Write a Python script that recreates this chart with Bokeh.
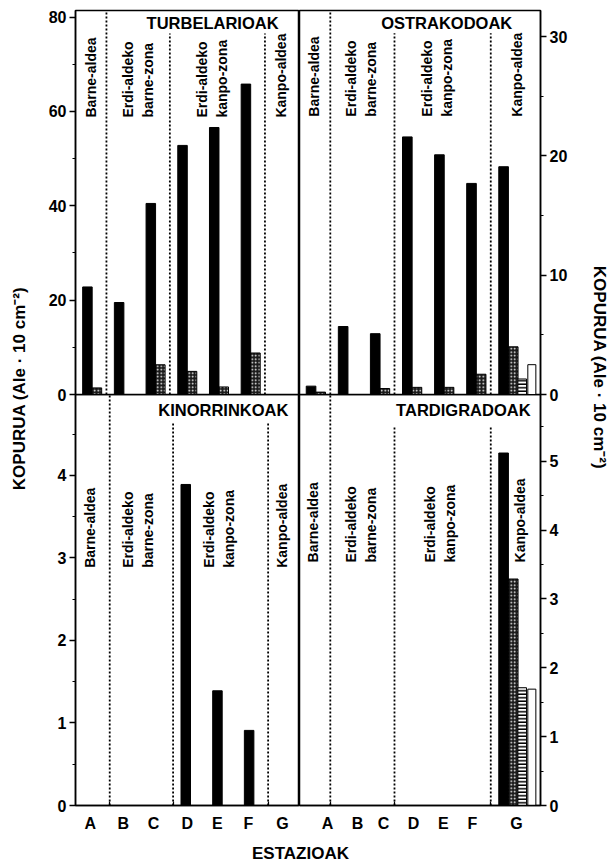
from math import pi
from bokeh.plotting import figure
from bokeh.models import Range1d, FixedTicker, ColumnDataSource, GridBox
from bokeh.transform import dodge
from bokeh.core.properties import value
from bokeh.embed import file_html
from bokeh.resources import INLINE

# ---------------- data ----------------
stations = ["A", "B", "C", "D", "E", "F", "G"]
series_names = ["I", "II", "III", "IV"]  # black, dotted, striped, white bars

turb_black = [22.8, 19.5, 40.5, 52.8, 56.6, 65.8, 0]
turb_dot = [1.4, 0, 6.3, 4.9, 1.6, 8.8, 0]
turb_stripe = [0, 0, 0, 0, 0, 0, 0]
turb_white = [0, 0, 0, 0, 0, 0, 0]

ostr_black = [0.7, 5.7, 5.1, 21.6, 20.1, 17.7, 19.1]
ostr_dot = [0.2, 0, 0.5, 0.6, 0.6, 1.7, 4.0]
ostr_stripe = [0, 0, 0, 0, 0, 0, 1.3]
ostr_white = [0, 0, 0, 0, 0, 0, 2.5]

kino_black = [0, 0, 0, 3.89, 1.39, 0.91, 0]
kino_dot = [0, 0, 0, 0, 0, 0, 0]
kino_stripe = [0, 0, 0, 0, 0, 0, 0]
kino_white = [0, 0, 0, 0, 0, 0, 0]

tard_black = [0, 0, 0, 0, 0, 0, 5.12]
tard_dot = [0, 0, 0, 0, 0, 0, 3.29]
tard_stripe = [0, 0, 0, 0, 0, 0, 1.71]
tard_white = [0, 0, 0, 0, 0, 0, 1.69]

zone_names = ["Barne-aldea", "Erdi-aldeko\nbarne-zona", "Erdi-aldeko\nkanpo-zona", "Kanpo-aldea"]
zone_bounds = [0.5, 2.5, 5.5]

y_title = "KOPURUA (Ale \u00b7 10 cm\u207b\u00b2)"
x_title = "ESTAZIOAK"

# ---------------- styles / layout ----------------
FONT = "Liberation Sans"
BAR_OFF = [-0.1, 0.2, 0.48, 0.78]
BAR_W = [0.3, 0.3, 0.27, 0.25]
BAR_STYLE = [
    dict(fill_color="black", line_color="black"),
    dict(fill_color="#1a1a1a", line_color="black", hatch_pattern="dot", hatch_color="white", hatch_scale=3.5, hatch_weight=1),
    dict(fill_color="white", line_color="black", hatch_pattern="horizontal_line", hatch_color="black", hatch_scale=3.5, hatch_weight=1.5),
    dict(fill_color="white", line_color="black"),
]

LW, RW = 259, 273       # column widths (left / right panel figures)
TH, BH = 402, 441       # figure heights (top / bottom panels)
LLW, RLW = 40, 39       # axis-title strips
ROW_H = ["394px", "8px", "433px", "28px"]


def make_panel(name, vals, cfg):
    p = figure(width=cfg["w"], height=cfg["h"],
               x_range=Range1d(*cfg["xr"]), y_range=Range1d(0, cfg["ymax"]),
               output_backend="svg", toolbar_location=None, tools="",
               x_axis_location="below" if cfg["xlab"] is not None else None,
               y_axis_location=cfg["side"],
               min_border_left=cfg["mb"][0], min_border_right=cfg["mb"][1],
               min_border_top=cfg["mb"][2], min_border_bottom=cfg["mb"][3])
    p.grid.visible = False
    p.outline_line_color = "black"
    p.outline_line_width = 1.5
    if cfg.get("transparent"):
        p.border_fill_color = None
        p.background_fill_color = None

    ya = p.yaxis[0]
    ya.ticker = FixedTicker(ticks=cfg["ymaj"], minor_ticks=cfg["ymin"])
    ya.axis_line_width = 1.5
    ya.major_tick_out = 6
    ya.major_tick_in = 0
    ya.minor_tick_out = 3
    ya.minor_tick_in = 0
    ya.major_tick_line_width = 1.5
    ya.minor_tick_line_width = 1.2
    ya.major_label_text_font = FONT
    ya.major_label_text_font_style = "bold"
    ya.major_label_text_font_size = "16px"
    ya.major_label_text_color = "black"
    ya.major_label_standoff = 3

    if cfg["xlab"] is not None:
        xa = p.xaxis[0]
        xa.ticker = FixedTicker(ticks=cfg["xlab"], minor_ticks=zone_bounds)
        xa.major_label_overrides = {pos: st for pos, st in zip(cfg["xlab"], stations)}
        xa.axis_line_width = 1.5
        xa.major_tick_out = 0
        xa.major_tick_in = 0
        xa.minor_tick_out = 0
        xa.minor_tick_in = 4
        xa.minor_tick_line_width = 1.2
        xa.major_label_text_font = FONT
        xa.major_label_text_font_style = "bold"
        xa.major_label_text_font_size = "16px"
        xa.major_label_text_color = "black"
        xa.major_label_standoff = 9

    # zone separators (dotted)
    ymax = cfg["ymax"]
    tops = [ymax, cfg["sep_top"], cfg["sep_top"]]
    p.segment(x0=zone_bounds, y0=[0, 0, 0], x1=zone_bounds, y1=tops,
              line_color="black", line_width=1.8, line_dash="2 2")

    # bars
    for k, sv in enumerate(vals):
        xs = [i for i, v in enumerate(sv) if v > 0]
        ts = [v for v in sv if v > 0]
        if not xs:
            continue
        src = ColumnDataSource(dict(x=xs, top=ts))
        p.vbar(x=dodge("x", BAR_OFF[k]), top="top", bottom=0, width=BAR_W[k],
               source=src, line_width=1, **BAR_STYLE[k])

    # zone labels
    p.text(x=cfg["zx"], y=[cfg["zy"]] * 4, text=zone_names, angle=pi / 2,
           text_align="left", text_baseline="middle", text_font=value(FONT),
           text_font_style="bold", text_font_size="14px", text_line_height=1.25,
           text_color="black")

    # panel title
    p.text(x=[cfg["tx"]], y=[cfg["ty"]], text=[name], text_align="right",
           text_baseline="middle", text_font=value(FONT), text_font_style="bold",
           text_font_size="16.5px", text_color="black")
    return p


tl = make_panel("TURBELARIOAK", [turb_black, turb_dot, turb_stripe, turb_white], dict(
    w=LW, h=TH, xr=(-0.476, 6.59), ymax=81.4, side="left", xlab=None, mb=(35, 0, 10, 8),
    ymaj=[0, 20, 40, 60, 80], ymin=[10, 30, 50, 70], sep_top=76.5,
    zx=[0.0, 1.5, 3.83, 6.02], zy=58.7, tx=5.93, ty=78.7))

tr = make_panel("OSTRAKODOAK", [ostr_black, ostr_dot, ostr_stripe, ostr_white], dict(
    w=RW, h=TH, xr=(-0.46, 7.05), ymax=32.2, side="right", xlab=None, mb=(0, 32, 10, 8),
    ymaj=[0, 10, 20, 30], ymin=[5, 15, 25], sep_top=30.3,
    zx=[0.0, 1.47, 3.81, 6.33], zy=23.3, tx=6.17, ty=31.15))

bl = make_panel("KINORRINKOAK", [kino_black, kino_dot, kino_stripe, kino_white], dict(
    w=LW, h=BH, xr=(-0.58, 6.49), ymax=4.98, side="left",
    xlab=[-0.11, 0.93, 1.88, 2.95, 3.9, 4.88, 5.95], mb=(35, 0, 0, 30),
    ymaj=[0, 1, 2, 3, 4], ymin=[0.5, 1.5, 2.5, 3.5, 4.5], sep_top=4.63,
    zx=[-0.11, 1.39, 3.96, 5.95], zy=2.88, tx=6.14, ty=4.79, transparent=True))

br = make_panel("TARDIGRADOAK", [tard_black, tard_dot, tard_stripe, tard_white], dict(
    w=RW, h=BH, xr=(-0.46, 7.05), ymax=5.97, side="right",
    xlab=[0.41, 1.35, 2.16, 3.09, 4.02, 4.93, 6.3], mb=(0, 32, 0, 30),
    ymaj=[0, 1, 2, 3, 4, 5], ymin=[0.5, 1.5, 2.5, 3.5, 4.5, 5.5], sep_top=5.52,
    zx=[-0.05, 1.47, 3.93, 6.42], zy=3.53, tx=6.74, ty=5.75, transparent=True))


def text_fig(w, h, txt, x, y, angle):
    f = figure(width=w, height=h, x_range=Range1d(0, w), y_range=Range1d(0, h),
               output_backend="svg", toolbar_location=None, tools="",
               x_axis_location=None, y_axis_location=None, min_border=0)
    f.outline_line_color = None
    f.grid.visible = False
    f.text(x=[x], y=[y], text=[txt], angle=angle, text_align="center",
           text_baseline="middle", text_font=value(FONT), text_font_style="bold",
           text_font_size="17px", text_color="black")
    return f


side_h = 394 + 8 + 433
left_lab = text_fig(LLW, side_h, y_title, 19, side_h - 397, pi / 2)
right_lab = text_fig(RLW, side_h, y_title, 27, side_h - 375, -pi / 2)
bottom_lab = text_fig(LLW + LW + RW + RLW, 28, x_title, 300, 10, 0)

layout = GridBox(children=[
    (left_lab, 0, 0, 3, 1),
    (tl, 0, 1, 2, 1),
    (tr, 0, 2, 2, 1),
    (bl, 1, 1, 2, 1),
    (br, 1, 2, 2, 1),
    (right_lab, 0, 3, 3, 1),
    (bottom_lab, 3, 0, 1, 4),
], rows=ROW_H, cols=[f"{LLW}px", f"{LW}px", f"{RW}px", f"{RLW}px"])

open("out.html", "w").write(file_html(layout, INLINE))
